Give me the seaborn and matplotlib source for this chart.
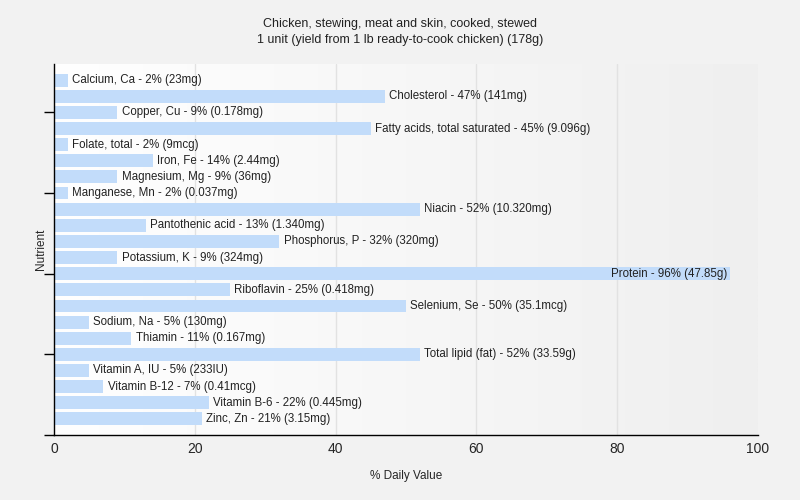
import numpy as np
import pandas as pd
import matplotlib
matplotlib.use("Agg")
import matplotlib.pyplot as plt
import seaborn as sns

# nutrient names, % daily value and amount labels
nutrients = [
    "Calcium, Ca", "Cholesterol", "Copper, Cu", "Fatty acids, total saturated",
    "Folate, total", "Iron, Fe", "Magnesium, Mg", "Manganese, Mn", "Niacin",
    "Pantothenic acid", "Phosphorus, P", "Potassium, K", "Protein", "Riboflavin",
    "Selenium, Se", "Sodium, Na", "Thiamin", "Total lipid (fat)", "Vitamin A, IU",
    "Vitamin B-12", "Vitamin B-6", "Zinc, Zn",
]
daily_value = [2, 47, 9, 45, 2, 14, 9, 2, 52, 13, 32, 9, 96, 25, 50, 5, 11, 52, 5, 7, 22, 21]
amounts = [
    "23mg", "141mg", "0.178mg", "9.096g", "9mcg", "2.44mg", "36mg", "0.037mg",
    "10.320mg", "1.340mg", "320mg", "324mg", "47.85g", "0.418mg", "35.1mcg",
    "130mg", "0.167mg", "33.59g", "233IU", "0.41mcg", "0.445mg", "3.15mg",
]

df = pd.DataFrame({"nutrient": nutrients, "dv": daily_value, "amount": amounts})

sns.set_style("white")
plt.rcParams["font.family"] = ["Liberation Sans", "DejaVu Sans"]

fig = plt.figure(figsize=(8, 5), dpi=100, facecolor="#f2f2f2")
ax = fig.add_axes([0.0675, 0.13, 0.88, 0.742])

# light horizontal gradient in the plotting area
grad = np.linspace(0, 1, 256).reshape(1, -1)
cmap = matplotlib.colors.LinearSegmentedColormap.from_list("bg", ["#ffffff", "#efefef"])
ax.imshow(grad, cmap=cmap, aspect="auto", extent=(0, 100, 22, -1), zorder=0)

for gx in [20, 40, 60, 80]:
    ax.axvline(gx, color="#e2e2e2", lw=1, zorder=1)

sns.barplot(data=df, x="dv", y="nutrient", color="#c2dcfa", saturation=1,
            width=0.8, orient="h", linewidth=0, edgecolor="none", ax=ax, zorder=2)

for i, row in df.iterrows():
    label = f"{row['nutrient']} - {row['dv']}% ({row['amount']})"
    if row["dv"] > 80:
        ax.text(row["dv"] - 0.4, i, label, ha="right", va="center", fontsize=8.3,
                color="#222222", zorder=3)
    else:
        ax.text(row["dv"] + 0.6, i, label, ha="left", va="center", fontsize=8.3,
                color="#222222", zorder=3)

ax.set_xlim(0, 100)
ax.set_ylim(22, -1)
ax.set_xticks([0, 20, 40, 60, 80, 100])
ax.set_yticks([2, 7, 12, 17, 22])
ax.set_yticklabels([])
ax.tick_params(axis="x", labelsize=10, length=0, pad=5)
ax.tick_params(axis="y", length=7, width=1, color="black", left=True, pad=0)
ax.set_xlabel("% Daily Value", fontsize=8.5, labelpad=10)
ax.set_ylabel("Nutrient", fontsize=8.5, labelpad=-2)

for side in ["top", "right"]:
    ax.spines[side].set_visible(False)
for side in ["left", "bottom"]:
    ax.spines[side].set_color("black")
    ax.spines[side].set_linewidth(1)

fig.text(0.5, 0.965, "Chicken, stewing, meat and skin, cooked, stewed\n"
         "1 unit (yield from 1 lb ready-to-cook chicken) (178g)",
         ha="center", va="top", fontsize=9, linespacing=1.5, color="#222222")

fig.savefig("out.png", dpi=100, facecolor=fig.get_facecolor())
